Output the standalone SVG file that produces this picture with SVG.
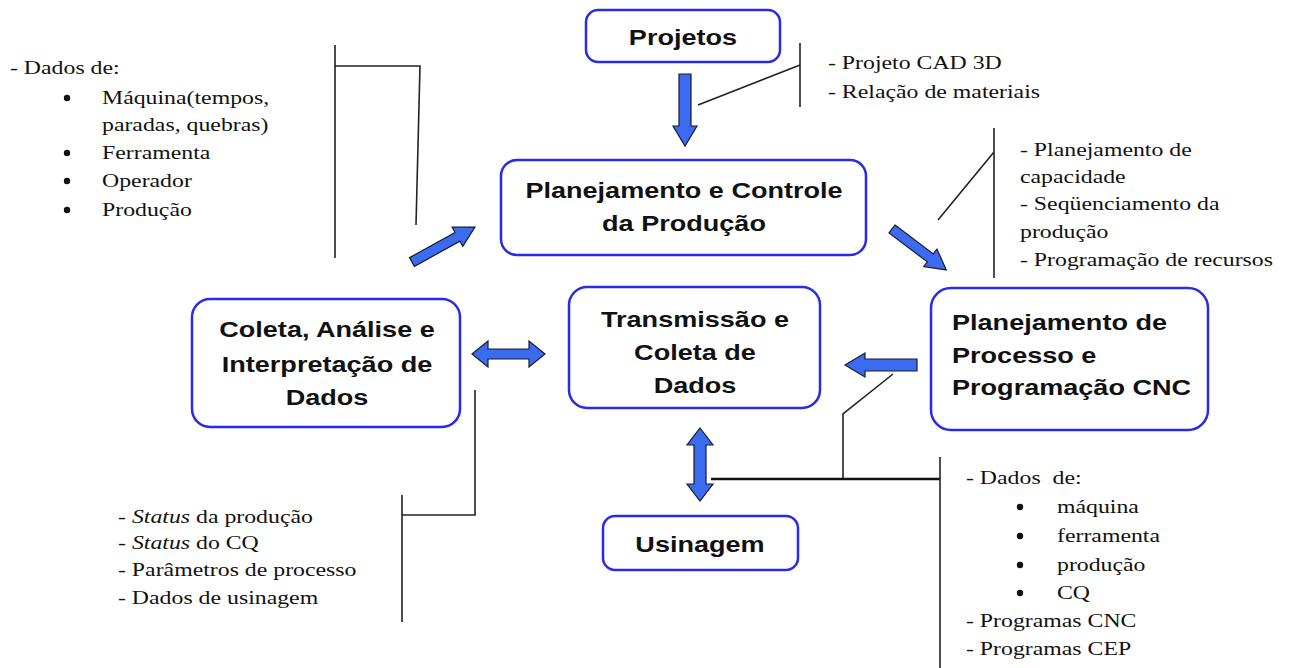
<svg xmlns="http://www.w3.org/2000/svg" width="1289" height="668" viewBox="0 0 1289 668">
<defs>
<style>
.box{fill:#fff;stroke:#2a2ae8;stroke-width:2.5}
.bt{font-family:"Liberation Sans",Arial,sans-serif;font-weight:bold;font-size:22px;fill:#111}
.st{font-family:"Liberation Serif","Times New Roman","DejaVu Serif",serif;font-size:19.5px;fill:#111}
.ln{stroke:#222;stroke-width:1.6;fill:none}
.arr{fill:#3b6cf0;stroke:#1a1a30;stroke-width:1.2;stroke-linejoin:miter}
</style>
</defs>
<rect width="1289" height="668" fill="#fff"/>

<g id="connectors">
  <polygon class="arr" points="679,74 691,74 691,126 697,126 685,146 673,126 679,126"/>
  <polygon class="arr" transform="translate(412,262) rotate(-29)" points="0,-5 52,-5 52,-11 72,0 52,11 52,5 0,5"/>
  <polygon class="arr" transform="translate(892,229) rotate(37)" points="0,-5 48,-5 48,-11 68,0 48,11 48,5 0,5"/>
  <polygon class="arr" points="917,359 865,359 865,353 845,365 865,377 865,371 917,371"/>
  <polygon class="arr" points="472,354 488,341 488,349 529,349 529,341 545,354 529,367 529,359 488,359 488,367"/>
  <polygon class="arr" points="700,428 713,445 706,445 706,484 713,484 700,501 687,484 694,484 694,445 687,445"/>
  <path class="ln" d="M335,45 V258 M335,66 H420 L416,225"/>
  <path class="ln" d="M800,43 V107 M800,65 L698,105"/>
  <path class="ln" d="M994,128 V278 M994,152 L938,220"/>
  <path class="ln" d="M893,374 L843,414 V479"/>
  <path d="M711,479 H940" stroke="#111" stroke-width="2.6" fill="none"/>
  <path class="ln" d="M940,457 V668"/>
  <path class="ln" d="M475,390 V515 H402 M402,495 V622"/>
</g>

<g id="projetos">
  <rect class="box" x="586" y="10" width="194" height="52" rx="12"/>
  <text class="bt" transform="translate(683,45) scale(1.23,1)" text-anchor="middle">Projetos</text>
</g>

<g id="pcp">
  <rect class="box" x="501" y="160" width="365" height="95" rx="16"/>
  <text class="bt" transform="translate(684,198) scale(1.23,1)" text-anchor="middle">Planejamento e Controle</text>
  <text class="bt" transform="translate(684,231) scale(1.23,1)" text-anchor="middle">da Produção</text>
</g>

<g id="coleta">
  <rect class="box" x="192" y="299" width="268" height="128" rx="18"/>
  <text class="bt" transform="translate(327,337) scale(1.23,1)" text-anchor="middle">Coleta, Análise e</text>
  <text class="bt" transform="translate(327,372) scale(1.23,1)" text-anchor="middle">Interpretação de</text>
  <text class="bt" transform="translate(327,405) scale(1.23,1)" text-anchor="middle">Dados</text>
</g>

<g id="transmissao">
  <rect class="box" x="569" y="287" width="251" height="121" rx="18"/>
  <text class="bt" transform="translate(695,327) scale(1.23,1)" text-anchor="middle">Transmissão e</text>
  <text class="bt" transform="translate(695,360) scale(1.23,1)" text-anchor="middle">Coleta de</text>
  <text class="bt" transform="translate(695,393) scale(1.23,1)" text-anchor="middle">Dados</text>
</g>

<g id="processo">
  <rect class="box" x="931" y="288" width="277" height="142" rx="20"/>
  <text class="bt" transform="translate(952,330) scale(1.23,1)">Planejamento de</text>
  <text class="bt" transform="translate(952,363) scale(1.23,1)">Processo e</text>
  <text class="bt" transform="translate(952,395) scale(1.23,1)">Programação CNC</text>
</g>

<g id="usinagem">
  <rect class="box" x="603" y="516" width="195" height="54" rx="12"/>
  <text class="bt" transform="translate(700,552) scale(1.23,1)" text-anchor="middle">Usinagem</text>
</g>

<g id="notes-left-top">
  <text class="st" transform="translate(10,74) scale(1.22,1)">- Dados de:</text>
  <g fill="#111"><circle cx="67" cy="98" r="3.2"/><circle cx="67" cy="153" r="3.2"/><circle cx="67" cy="181" r="3.2"/><circle cx="67" cy="210" r="3.2"/></g>
  <text class="st" transform="translate(102,104) scale(1.22,1)">Máquina(tempos,</text>
  <text class="st" transform="translate(102,131) scale(1.22,1)">paradas, quebras)</text>
  <text class="st" transform="translate(102,159) scale(1.22,1)">Ferramenta</text>
  <text class="st" transform="translate(102,187) scale(1.22,1)">Operador</text>
  <text class="st" transform="translate(102,216) scale(1.22,1)">Produção</text>
</g>

<g id="notes-projetos">
  <text class="st" transform="translate(828,69) scale(1.22,1)">- Projeto CAD 3D</text>
  <text class="st" transform="translate(828,98) scale(1.22,1)">- Relação de materiais</text>
</g>

<g id="notes-pcp">
  <text class="st" transform="translate(1020,156) scale(1.22,1)">- Planejamento de</text>
  <text class="st" transform="translate(1020,183) scale(1.22,1)">capacidade</text>
  <text class="st" transform="translate(1020,210) scale(1.22,1)">- Seqüenciamento da</text>
  <text class="st" transform="translate(1020,238) scale(1.22,1)">produção</text>
  <text class="st" transform="translate(1020,266) scale(1.22,1)">- Programação de recursos</text>
</g>

<g id="notes-coleta">
  <text class="st" transform="translate(118,523) scale(1.22,1)">- <tspan font-style="italic">Status</tspan> da produção</text>
  <text class="st" transform="translate(118,549) scale(1.22,1)">- <tspan font-style="italic">Status</tspan> do CQ</text>
  <text class="st" transform="translate(118,576) scale(1.22,1)">- Parâmetros de processo</text>
  <text class="st" transform="translate(118,604) scale(1.22,1)">- Dados de usinagem</text>
</g>

<g id="notes-usinagem">
  <text class="st" transform="translate(966,484) scale(1.22,1)" xml:space="preserve">- Dados  de:</text>
  <g fill="#111"><circle cx="1020" cy="507" r="3.2"/><circle cx="1020" cy="536" r="3.2"/><circle cx="1020" cy="565" r="3.2"/><circle cx="1020" cy="593" r="3.2"/></g>
  <text class="st" transform="translate(1057,513) scale(1.22,1)">máquina</text>
  <text class="st" transform="translate(1057,542) scale(1.22,1)">ferramenta</text>
  <text class="st" transform="translate(1057,571) scale(1.22,1)">produção</text>
  <text class="st" transform="translate(1057,599) scale(1.22,1)">CQ</text>
  <text class="st" transform="translate(966,627) scale(1.22,1)">- Programas CNC</text>
  <text class="st" transform="translate(966,655) scale(1.22,1)">- Programas CEP</text>
</g>
</svg>
